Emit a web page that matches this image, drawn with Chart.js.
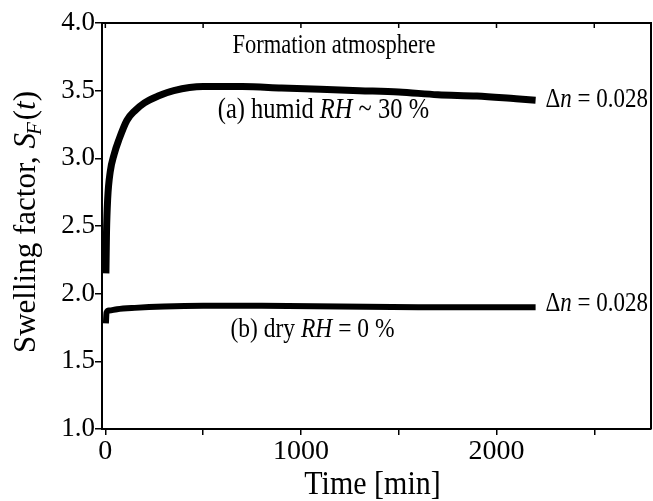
<!DOCTYPE html>
<html>
<head>
<meta charset="utf-8">
<script src="https://cdn.jsdelivr.net/npm/chart.js@4.4.1/dist/chart.umd.min.js"></script>
<style>
  html, body { margin: 0; padding: 0; background: #fff; }
  #wrap { width: 653px; height: 501px; }
</style>
</head>
<body>
<div id="wrap"><canvas id="swellChart" width="653" height="501"></canvas></div>
<script>
// Dados (tempo em min, fator de inchamento)
const humidTime = [3, 6, 12, 25, 45, 70, 110, 150, 200, 270, 350, 500, 700, 900, 1100, 1300, 1500, 1700, 1900, 2100, 2200];
const humidSF = [2.15, 2.45, 2.70, 2.90, 3.03, 3.14, 3.28, 3.35, 3.41, 3.46, 3.50, 3.53, 3.53, 3.52, 3.51, 3.50, 3.49, 3.47, 3.46, 3.44, 3.43];

const dryTime = [3, 6, 20, 60, 150, 300, 500, 800, 1200, 1600, 2000, 2200];
const drySF = [1.78, 1.86, 1.875, 1.885, 1.895, 1.905, 1.91, 1.91, 1.905, 1.90, 1.90, 1.90];

const xTicks = [0, 500, 1000, 1500, 2000, 2500];
const xLabels = ["0", "", "1000", "", "2000", ""];
const yTicks = [1.0, 1.5, 2.0, 2.5, 3.0, 3.5, 4.0];

const SERIF = "'Liberation Serif', 'DejaVu Serif', serif";

function toPoints(xs, ys) {
  return xs.map((x, i) => ({ x: x, y: ys[i] }));
}

// Texto com trechos em itálico (esticado na vertical como no original)
function richText(ctx, x, y, parts, size, sy) {
  ctx.save();
  ctx.translate(x, y);
  ctx.scale(1, sy || 1.2);
  let cx = 0;
  parts.forEach((p) => {
    ctx.font = (p.i ? "italic " : "") + size + "px " + SERIF;
    ctx.fillText(p.t, cx, 0);
    cx += ctx.measureText(p.t).width;
  });
  ctx.restore();
}

// Moldura, ticks internos no topo e anotações
const decorPlugin = {
  id: "decor",
  afterDraw(chart) {
    const { ctx, chartArea: a, scales } = chart;
    const xs = scales.x;
    const ys = scales.y;
    ctx.save();
    ctx.strokeStyle = "#000";
    ctx.lineWidth = 2;
    ctx.beginPath();
    ctx.moveTo(a.left, a.top);
    ctx.lineTo(a.right, a.top);
    ctx.lineTo(a.right, a.bottom);
    ctx.stroke();

    ctx.lineWidth = 1.5;
    xTicks.forEach((t) => {
      const px = xs.getPixelForValue(t);
      ctx.beginPath();
      ctx.moveTo(px, a.top);
      ctx.lineTo(px, a.top + 5);
      ctx.stroke();
    });

    ctx.fillStyle = "#000";
    ctx.textBaseline = "alphabetic";
    ctx.textAlign = "left";

    richText(ctx, xs.getPixelForValue(650), ys.getPixelForValue(3.78), [{ t: "Formation atmosphere" }], 22.5);
    richText(ctx, xs.getPixelForValue(575), ys.getPixelForValue(3.30),
      [{ t: "(a) humid " }, { t: "RH", i: true }, { t: " ~ 30 %" }], 24.5);
    richText(ctx, xs.getPixelForValue(640), ys.getPixelForValue(1.68),
      [{ t: "(b) dry " }, { t: "RH", i: true }, { t: " = 0 %" }], 23.5);

    const dn = [{ t: "\u0394" }, { t: "n", i: true }, { t: " = 0.028" }];
    richText(ctx, xs.getPixelForValue(2250), ys.getPixelForValue(3.38), dn, 23);
    richText(ctx, xs.getPixelForValue(2250), ys.getPixelForValue(1.87), dn, 23);

    // Título do eixo Y
    ctx.translate(35, (a.top + a.bottom) / 2 - 4);
    ctx.rotate(-Math.PI / 2);
    ctx.font = "31px " + SERIF;
    const p1 = "Swelling factor, ";
    let w = ctx.measureText(p1).width;
    ctx.font = "italic 31px " + SERIF;
    const wS = ctx.measureText("S").width;
    ctx.font = "italic 21px " + SERIF;
    const wF = ctx.measureText("F").width;
    ctx.font = "31px " + SERIF;
    const wt = ctx.measureText("(t)").width;
    let cx = -(w + wS + wF + wt) / 2;
    ctx.fillText(p1, cx, 0);
    cx += w;
    ctx.font = "italic 31px " + SERIF;
    ctx.fillText("S", cx, 0);
    cx += wS;
    ctx.font = "italic 21px " + SERIF;
    ctx.fillText("F", cx - 2, 6);
    cx += wF;
    ctx.font = "31px " + SERIF;
    ctx.fillText("(", cx, 0);
    cx += ctx.measureText("(").width;
    ctx.font = "italic 31px " + SERIF;
    ctx.fillText("t", cx, 0);
    cx += ctx.measureText("t").width;
    ctx.font = "31px " + SERIF;
    ctx.fillText(")", cx, 0);
    ctx.restore();

    // Título do eixo X
    ctx.save();
    ctx.fillStyle = "#000";
    ctx.font = "30px " + SERIF;
    ctx.textAlign = "center";
    ctx.translate((a.left + a.right) / 2 - 4, 494);
    ctx.scale(1, 1.1);
    ctx.fillText("Time [min]", 0, 0);
    ctx.restore();
  },
};

const lineStyle = {
  borderColor: "#000",
  backgroundColor: "#000",
  pointRadius: 0,
  fill: false,
  cubicInterpolationMode: "monotone",
  borderCapStyle: "butt",
  borderJoinStyle: "round",
};

new Chart(document.getElementById("swellChart"), {
  type: "line",
  data: {
    datasets: [
      Object.assign({ label: "humid", data: toPoints(humidTime, humidSF), borderWidth: 7 }, lineStyle),
      Object.assign({ label: "dry", data: toPoints(dryTime, drySF), borderWidth: 6 }, lineStyle),
    ],
  },
  options: {
    responsive: false,
    animation: false,
    events: [],
    layout: { padding: { top: 23, right: 2, left: 0, bottom: 0 } },
    plugins: { legend: { display: false }, tooltip: { enabled: false } },
    scales: {
      x: {
        type: "linear",
        min: -17,
        max: 2790,
        afterBuildTicks(scale) {
          scale.ticks = xTicks.map((v) => ({ value: v }));
        },
        afterFit(scale) {
          scale.height = 72;
        },
        grid: { drawOnChartArea: false, drawTicks: true, tickLength: 6, color: "#000", lineWidth: 1.5 },
        border: { color: "#000", width: 2 },
        ticks: {
          color: "#000",
          padding: 0,
          maxRotation: 0,
          autoSkip: false,
          font: { family: SERIF, size: 28 },
          callback: (v, i) => xLabels[i],
        },
      },
      y: {
        type: "linear",
        min: 1.0,
        max: 4.0,
        afterBuildTicks(scale) {
          scale.ticks = yTicks.map((v) => ({ value: v }));
        },
        afterFit(scale) {
          scale.width = 102;
        },
        grid: { drawOnChartArea: false, drawTicks: true, tickLength: 7, color: "#000", lineWidth: 1.5 },
        border: { color: "#000", width: 2 },
        ticks: {
          color: "#000",
          padding: 0,
          font: { family: SERIF, size: 27 },
          callback: (v) => v.toFixed(1),
        },
      },
    },
  },
  plugins: [decorPlugin],
});
</script>
</body>
</html>
